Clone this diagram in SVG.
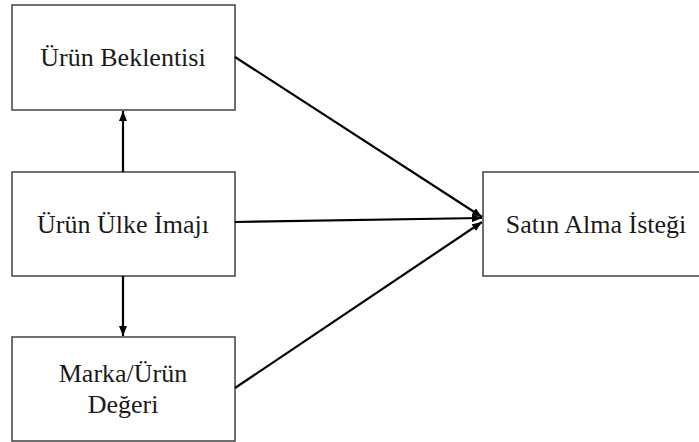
<svg xmlns="http://www.w3.org/2000/svg" width="699" height="442" viewBox="0 0 699 442">
<defs>
<style>
.box{fill:#fff;stroke:#404040;stroke-width:1.5}
.lbl{font-family:'Liberation Serif','Times New Roman',serif;font-size:26px;fill:#1a1a1a;text-anchor:middle}
.con{stroke:#000;stroke-width:2.2;fill:none;marker-end:url(#ah)}
</style>
<marker id="ah" viewBox="0 0 10 8" refX="10" refY="4" markerWidth="10" markerHeight="8" markerUnits="userSpaceOnUse" orient="auto">
<path d="M0,0 L10,4 L0,8 z" fill="#000"/>
</marker>
</defs>
<rect width="699" height="442" fill="#fff"/>
<g id="urun-beklentisi">
<rect class="box" x="12" y="5" width="223" height="105"/>
<text class="lbl" x="123" y="66">Ürün Beklentisi</text>
</g>
<g id="urun-ulke-imaji">
<rect class="box" x="12" y="172" width="223" height="104"/>
<text class="lbl" x="123" y="233">Ürün Ülke İmajı</text>
</g>
<g id="marka-urun-degeri">
<rect class="box" x="12" y="337" width="223" height="104"/>
<text class="lbl" x="123" y="382">Marka/Ürün</text>
<text class="lbl" x="123" y="413">Değeri</text>
</g>
<g id="satin-alma-istegi">
<rect class="box" x="483" y="172" width="226" height="104"/>
<text class="lbl" x="596" y="233">Satın Alma İsteği</text>
</g>
<g id="connectors">
<line class="con" x1="123" y1="172" x2="123" y2="111"/>
<line class="con" x1="123" y1="276" x2="123" y2="336"/>
<line class="con" x1="235" y1="57" x2="482" y2="217"/>
<line class="con" x1="235" y1="222" x2="482" y2="218"/>
<line class="con" x1="235" y1="388" x2="482" y2="222"/>
</g>
</svg>
